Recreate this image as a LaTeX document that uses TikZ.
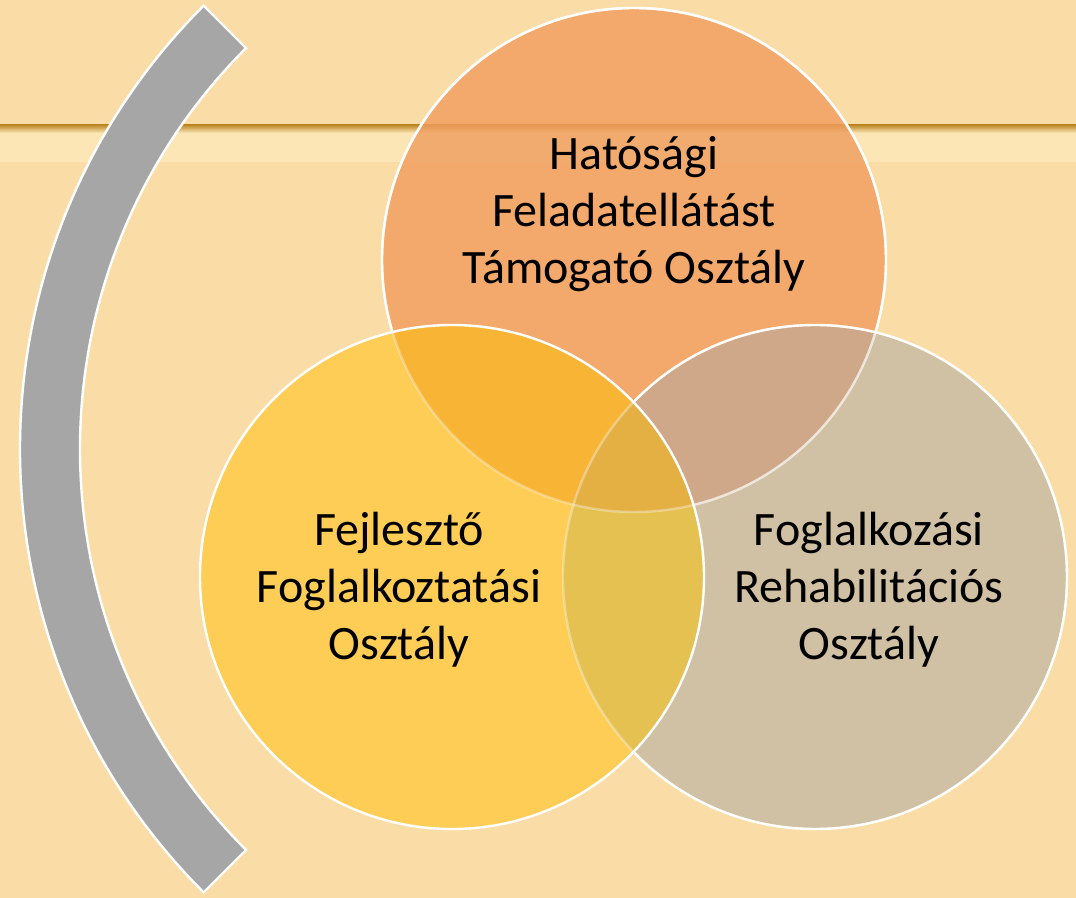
\documentclass[tikz,border=0pt]{standalone}
\usepackage{fontspec}
\setmainfont{Carlito}
\usepackage{tikz}

\definecolor{bgcol}{HTML}{FADDA6}
\definecolor{bandcol}{HTML}{FCE6B6}
\definecolor{bandline}{HTML}{BF8A2A}
\definecolor{arccol}{HTML}{A6A6A6}
\definecolor{topcol}{HTML}{F09D5D}
\definecolor{leftcol}{HTML}{FDCD55}
\definecolor{rightcol}{HTML}{D0C0A4}
\definecolor{tlcol}{HTML}{F8B535}
\definecolor{trcol}{HTML}{CEA888}
\definecolor{lrcol}{HTML}{E5C152}
\definecolor{allcol}{HTML}{E4B043}

\begin{document}
\begin{tikzpicture}[%
      x=0.75pt, y=-0.75pt,
      rim/.style={draw=white, line width=1.8pt},
      venntext/.style={align=center, text=black,
        font=\fontsize{36}{42.75}\selectfont},
      ]
      \useasboundingbox (0,0) rectangle (1076,898);
      \fill [bgcol] (0,0) rectangle (1076,898);
      % band across the top
      \fill [bandcol] (0,125) rectangle (1076,162);
      \shade [top color=bandline, bottom color=bandcol] (0,125) rectangle (1076,133);

      \coordinate (ctop) at (634,260);
      \coordinate (cleft) at (452,577);
      \coordinate (cright) at (815,577);
      \coordinate (carc) at (647,449);

      % bracket arc
      \draw [rim, fill=arccol] ([shift={(135:470.25pt)}]carc)
            arc [start angle=135, end angle=225, radius=470.25pt]
            -- ([shift={(225:425.25pt)}]carc)
            arc [start angle=225, end angle=135, radius=425.25pt] -- cycle;

      % circles
      \fill [leftcol] (cleft) circle (189pt);
      \fill [rightcol] (cright) circle (189pt);
      \fill [topcol, fill opacity=0.8] (ctop) circle (189pt);

      % overlaps
      \begin{scope}
        \clip (cleft) circle (189pt);
        \fill [tlcol] (ctop) circle (189pt);
        \fill [lrcol] (cright) circle (189pt);
        \clip (ctop) circle (189pt);
        \fill [allcol] (cright) circle (189pt);
      \end{scope}
      \begin{scope}
        \clip (ctop) circle (189pt);
        \fill [trcol] (cright) circle (189pt);
        \clip (cleft) circle (189pt);
        \fill [allcol] (cright) circle (189pt);
      \end{scope}

      % rims
      \draw [rim, draw opacity=0.35] (ctop) circle (189pt);
      \draw [rim, draw opacity=0.35] (cright) circle (189pt);
      \begin{scope}[even odd rule]
        \clip (-10,-10) rectangle (1090,910) (cleft) circle (189pt);
        \draw [rim] (cright) circle (189pt);
        \draw [rim, draw opacity=0.5] (ctop) circle (189pt);
        \clip (-10,-10) rectangle (1090,910) (cright) circle (189pt);
        \draw [rim] (ctop) circle (189pt);
      \end{scope}
      \draw [rim] (cleft) circle (189pt);

      \node [venntext] (hatosagi) at (634,214) {Hatósági\\Feladatellátást\\Támogató Osztály};
      \node [venntext] (fejleszto) at (399,590) {Fejlesztő\\Foglalkoztatási\\Osztály};
      \node [venntext] (foglalkozasi) at (869,590) {Foglalkozási\\Rehabilitációs\\Osztály};
\end{tikzpicture}
\end{document}
